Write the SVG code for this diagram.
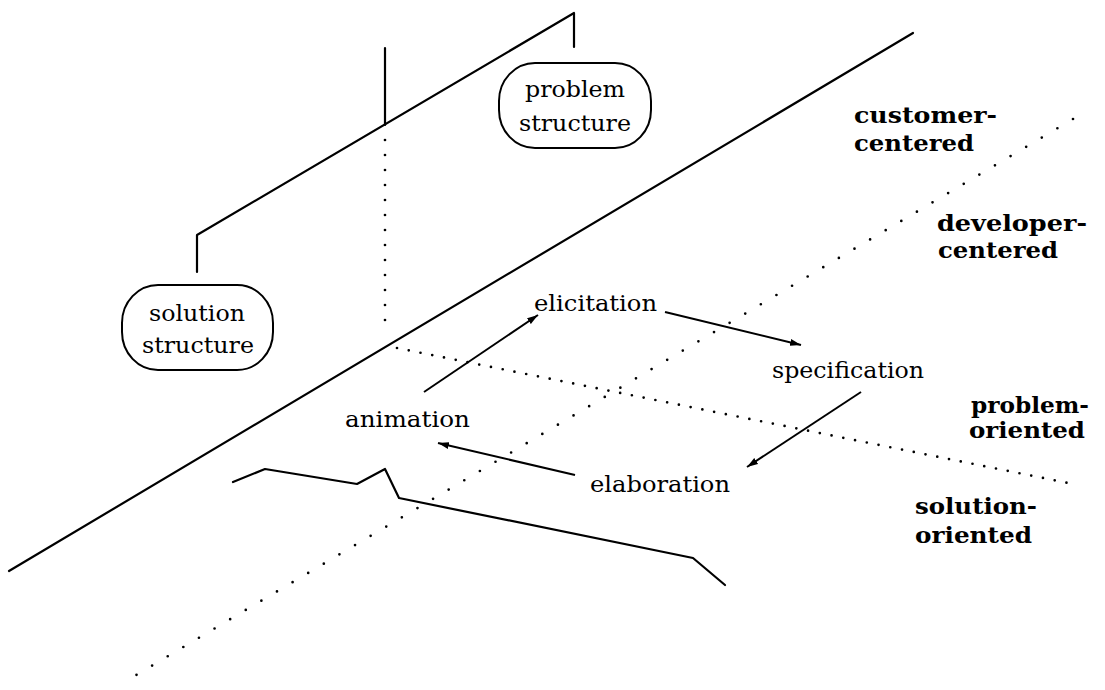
<svg xmlns="http://www.w3.org/2000/svg" width="1105" height="690" viewBox="0 0 1105 690">
<defs>
<style>
.solid{fill:none;stroke:#000;stroke-width:2.2;stroke-linecap:round;stroke-linejoin:round}
.dots{fill:none;stroke:#000;stroke-width:2.7;stroke-linecap:round}
.node{fill:#fff;stroke:#000;stroke-width:2}
.lbl{font-family:"DejaVu Serif","Liberation Serif",serif;font-size:22px;fill:#000}
.bold{font-family:"DejaVu Serif","Liberation Serif",serif;font-size:23px;font-weight:bold;fill:#000}
.arr{fill:none;stroke:#000;stroke-width:2;marker-end:url(#ah)}
</style>
<marker id="ah" markerUnits="userSpaceOnUse" markerWidth="12" markerHeight="8" refX="11" refY="4" orient="auto">
<path d="M0,0.5 L11,4 L0,7.5 z" fill="#000"/>
</marker>
</defs>
<rect width="1105" height="690" fill="#fff"/>
<g id="planes">
<line class="solid" x1="9" y1="571" x2="913" y2="33"/>
<line class="dots" x1="1073" y1="119" x2="121" y2="684" stroke-dasharray="0 18.15"/>
<line class="dots" x1="397" y1="348" x2="1078" y2="485" stroke-dasharray="0 11.98"/>
<line class="dots" x1="385" y1="140" x2="385" y2="335" stroke-dasharray="0 15"/>
<polyline class="solid" points="233,482 265,469 357,484 385,469 399,498 693,558 725,585"/>
</g>
<g id="connectors">
<polyline class="solid" points="197,272 197,235 574,13 574,47"/>
<line class="solid" x1="385" y1="48" x2="385" y2="125"/>
<line class="arr" x1="424" y1="392" x2="538" y2="315"/>
<line class="arr" x1="665" y1="312" x2="801" y2="345"/>
<line class="arr" x1="861" y1="392" x2="747" y2="467"/>
<line class="arr" x1="575" y1="475" x2="438" y2="443"/>
</g>
<g id="problem-structure">
<rect class="node" x="499" y="63" width="152" height="85" rx="36" ry="38"/>
<text class="lbl" x="575" y="97" text-anchor="middle" textLength="100" lengthAdjust="spacingAndGlyphs">problem</text>
<text class="lbl" x="575" y="131" text-anchor="middle" textLength="112" lengthAdjust="spacingAndGlyphs">structure</text>
</g>
<g id="solution-structure">
<rect class="node" x="122" y="285" width="151" height="85" rx="36" ry="38"/>
<text class="lbl" x="197" y="321" text-anchor="middle" textLength="96" lengthAdjust="spacingAndGlyphs">solution</text>
<text class="lbl" x="198" y="353" text-anchor="middle" textLength="112" lengthAdjust="spacingAndGlyphs">structure</text>
</g>
<g id="elicitation"><text class="lbl" x="534" y="311" textLength="123" lengthAdjust="spacingAndGlyphs">elicitation</text></g>
<g id="specification"><text class="lbl" x="772" y="378" textLength="152" lengthAdjust="spacingAndGlyphs">specification</text></g>
<g id="animation"><text class="lbl" x="345" y="427" textLength="125" lengthAdjust="spacingAndGlyphs">animation</text></g>
<g id="elaboration"><text class="lbl" x="590" y="492" textLength="140" lengthAdjust="spacingAndGlyphs">elaboration</text></g>
<g id="customer-centered">
<text class="bold" x="854" y="123" textLength="143" lengthAdjust="spacingAndGlyphs">customer-</text>
<text class="bold" x="854" y="151" textLength="120" lengthAdjust="spacingAndGlyphs">centered</text>
</g>
<g id="developer-centered">
<text class="bold" x="937" y="231" textLength="150" lengthAdjust="spacingAndGlyphs">developer-</text>
<text class="bold" x="938" y="258" textLength="120" lengthAdjust="spacingAndGlyphs">centered</text>
</g>
<g id="problem-oriented">
<text class="bold" x="971" y="413" textLength="118" lengthAdjust="spacingAndGlyphs">problem-</text>
<text class="bold" x="969" y="438" textLength="116" lengthAdjust="spacingAndGlyphs">oriented</text>
</g>
<g id="solution-oriented">
<text class="bold" x="915" y="514" textLength="122" lengthAdjust="spacingAndGlyphs">solution-</text>
<text class="bold" x="915" y="543" textLength="117" lengthAdjust="spacingAndGlyphs">oriented</text>
</g>
</svg>
